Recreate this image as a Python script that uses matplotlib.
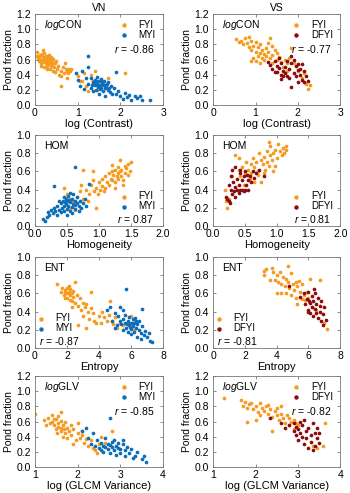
import numpy as np
import matplotlib
matplotlib.use("Agg")
import matplotlib.pyplot as plt

plt.rcParams['font.family'] = ['Liberation Sans', 'DejaVu Sans']
plt.rcParams['font.size'] = 7.5
plt.rcParams['mathtext.fontset'] = 'custom'
plt.rcParams['mathtext.it'] = 'Liberation Sans:italic'
plt.rcParams['mathtext.rm'] = 'Liberation Sans'

C_FYI = '#F49B20'
C_MYI = '#0C6DB8'
C_DFYI = '#8B0B0E'

# ---- VN, log contrast ----
vn_con_fyi = [(0.05,0.70),(0.08,0.62),(0.10,0.58),(0.12,0.66),(0.15,0.60),(0.15,0.55),(0.18,0.63),(0.20,0.57),
              (0.20,0.50),(0.22,0.68),(0.23,0.61),(0.25,0.55),(0.25,0.64),(0.27,0.59),(0.28,0.52),(0.30,0.62),
              (0.30,0.57),(0.32,0.66),(0.33,0.54),(0.35,0.60),(0.35,0.48),(0.37,0.63),(0.38,0.56),(0.40,0.52),
              (0.40,0.59),(0.42,0.45),(0.43,0.61),(0.45,0.50),(0.47,0.55),(0.48,0.43),(0.50,0.58),(0.52,0.47),
              (0.55,0.52),(0.57,0.40),(0.60,0.45),(0.62,0.38),(0.65,0.50),(0.68,0.42),(0.70,0.55),(0.72,0.47),
              (0.75,0.45),(0.78,0.42),(0.80,0.48),(0.82,0.45),(0.85,0.48),(0.60,0.25),(0.75,0.35),(1.00,0.38),
              (1.05,0.32),(1.10,0.31),(1.15,0.42),(1.20,0.25),(1.25,0.18),(1.30,0.40),(1.35,0.32),(1.50,0.25),
              (1.40,0.45),(1.45,0.20),(1.60,0.30),(1.70,0.35),(2.10,0.42),(0.18,0.72),(0.28,0.47),(0.05,0.65),
              (0.13,0.52),(0.22,0.59),(0.33,0.58),(0.27,0.65),(0.42,0.55),(0.17,0.67),(0.37,0.51),(0.10,0.63)]
vn_con_myi = [(0.95,0.42),(1.00,0.33),(1.05,0.25),(1.10,0.45),(1.15,0.21),(1.20,0.36),(1.25,0.65),(1.25,0.50),
              (1.25,0.28),(1.30,0.22),(1.30,0.35),(1.35,0.30),(1.35,0.18),(1.40,0.26),(1.40,0.33),(1.42,0.20),
              (1.45,0.28),(1.45,0.37),(1.48,0.24),(1.50,0.31),(1.50,0.15),(1.52,0.27),(1.55,0.22),(1.55,0.34),
              (1.58,0.29),(1.60,0.19),(1.60,0.26),(1.62,0.32),(1.65,0.23),(1.65,0.12),(1.68,0.28),(1.70,0.20),
              (1.72,0.30),(1.75,0.17),(1.78,0.25),(1.80,0.14),(1.85,0.22),(1.90,0.43),(1.90,0.15),(1.95,0.19),
              (2.00,0.12),(2.05,0.08),(2.10,0.16),(2.15,0.10),(2.20,0.13),(2.25,0.07),(2.35,0.12),(2.40,0.09),
              (2.45,0.12),(2.50,0.06),(2.70,0.07),(1.38,0.29),(1.47,0.25),(1.57,0.30),(1.63,0.27),(1.53,0.21),
              (1.43,0.32),(1.67,0.24),(1.33,0.26),(1.73,0.22)]

# ---- VS, log contrast ----
vs_con_fyi = [(0.55,0.87),(0.60,0.83),(0.65,0.85),(0.70,0.80),(0.75,0.88),(0.80,0.82),(0.85,0.90),(0.85,0.77),
              (0.90,0.72),(0.90,0.84),(0.95,0.78),(1.00,0.70),(1.00,0.83),(1.05,0.65),(1.05,0.76),(1.10,0.80),
              (1.10,0.68),(1.15,0.62),(1.15,0.73),(1.20,0.67),(1.20,0.59),(1.25,0.75),(1.25,0.64),(1.30,0.70),
              (1.30,0.82),(1.35,0.62),(1.35,0.88),(1.40,0.66),(1.40,0.55),(1.45,0.72),(1.50,0.60),(1.50,0.68),
              (1.55,0.63),(1.60,0.57),(1.65,0.50),(1.70,0.60),(1.75,0.55),(1.80,0.62),(1.85,0.75),(1.90,0.55),
              (2.00,0.45),(2.10,0.36),(2.15,0.42),(2.20,0.28),(2.25,0.21),(2.28,0.27),(0.90,0.58),(1.00,0.58),
              (1.10,0.55),(0.95,0.62),(1.75,0.45),(1.40,0.78)]
vs_con_dfyi = [(1.30,0.57),(1.35,0.53),(1.40,0.48),(1.45,0.58),(1.50,0.52),(1.50,0.44),(1.55,0.62),(1.55,0.49),
               (1.60,0.40),(1.60,0.55),(1.65,0.45),(1.65,0.38),(1.70,0.50),(1.70,0.42),(1.75,0.38),(1.80,0.48),
               (1.80,0.35),(1.85,0.55),(1.85,0.64),(1.85,0.24),(1.90,0.60),(1.90,0.42),(1.95,0.38),(2.00,0.54),
               (2.00,0.46),(2.00,0.30),(2.05,0.40),(2.05,0.48),(2.10,0.33),(2.10,0.54),(2.15,0.45),(2.15,0.30),
               (2.20,0.38),(2.25,0.32),(1.75,0.58),(1.95,0.52),(1.45,0.43),(1.60,0.34)]

# ---- VN, homogeneity ----
vn_hom_fyi = [(0.45,0.42),(0.50,0.35),(0.55,0.30),(0.60,0.28),(0.62,0.18),(0.65,0.32),(0.70,0.38),(0.72,0.45),
              (0.75,0.30),(0.80,0.40),(0.82,0.28),(0.85,0.35),(0.88,0.45),(0.90,0.50),(0.92,0.38),(0.95,0.42),
              (0.98,0.35),(1.00,0.48),(1.02,0.40),(1.05,0.52),(1.05,0.44),(1.08,0.38),(1.10,0.55),(1.12,0.48),
              (1.15,0.58),(1.15,0.45),(1.18,0.52),(1.20,0.60),(1.20,0.50),(1.22,0.56),(1.25,0.62),(1.25,0.48),
              (1.28,0.55),(1.30,0.58),(1.30,0.65),(1.30,0.52),(1.32,0.72),(1.33,0.60),(1.35,0.55),(1.35,0.62),
              (1.38,0.50),(1.40,0.66),(1.40,0.58),(1.42,0.64),(1.45,0.56),(1.45,0.68),(1.48,0.60),(1.50,0.70),
              (1.25,0.42),(1.10,0.42),(0.90,0.60),(0.75,0.62),(0.95,0.20),(0.55,0.20),(1.38,0.45),(1.20,0.67)]
vn_hom_myi = [(0.12,0.08),(0.15,0.06),(0.18,0.10),(0.20,0.15),(0.22,0.12),(0.25,0.18),(0.28,0.14),(0.30,0.20),
              (0.30,0.44),(0.32,0.16),(0.35,0.22),(0.35,0.12),(0.38,0.18),(0.40,0.25),(0.40,0.15),(0.42,0.20),
              (0.43,0.28),(0.45,0.22),(0.45,0.17),(0.48,0.30),(0.48,0.24),(0.50,0.19),(0.50,0.27),(0.52,0.33),
              (0.52,0.22),(0.55,0.26),(0.55,0.16),(0.57,0.30),(0.58,0.21),(0.60,0.24),(0.60,0.35),(0.62,0.65),
              (0.62,0.28),(0.63,0.19),(0.65,0.25),(0.66,0.32),(0.68,0.22),(0.70,0.28),(0.72,0.20),(0.75,0.25),
              (0.78,0.30),(0.80,0.22),(0.85,0.46),(0.55,0.36),(0.45,0.32),(0.38,0.27),(0.58,0.14),(0.68,0.16),
              (0.50,0.12),(0.53,0.29),(0.47,0.26),(0.63,0.23)]

# ---- VS, homogeneity ----
vs_hom_fyi = [(0.18,0.40),(0.20,0.28),(0.22,0.20),(0.25,0.30),(0.30,0.55),(0.35,0.78),(0.40,0.75),(0.42,0.55),
              (0.45,0.65),(0.50,0.58),(0.52,0.70),(0.55,0.62),(0.58,0.52),(0.60,0.68),(0.62,0.75),(0.65,0.65),
              (0.68,0.70),(0.70,0.60),(0.72,0.80),(0.75,0.72),(0.75,0.48),(0.78,0.68),(0.80,0.76),(0.82,0.62),
              (0.85,0.82),(0.85,0.70),(0.88,0.66),(0.90,0.78),(0.90,0.88),(0.92,0.72),(0.95,0.80),(0.95,0.60),
              (0.98,0.84),(1.00,0.75),(1.02,0.90),(1.05,0.82),(1.08,0.78),(1.10,0.86),(1.12,0.80),(1.15,0.84),
              (1.15,0.88),(0.70,0.56),(0.80,0.58),(0.60,0.58),(0.55,0.56),(0.65,0.48),(0.48,0.45),(0.40,0.62),
              (0.88,0.92),(0.97,0.66)]
vs_hom_dfyi = [(0.20,0.32),(0.22,0.30),(0.25,0.28),(0.25,0.45),(0.28,0.40),(0.28,0.55),(0.30,0.35),(0.30,0.62),
               (0.32,0.48),(0.33,0.38),(0.35,0.43),(0.35,0.32),(0.35,0.65),(0.38,0.40),(0.38,0.52),(0.40,0.45),
               (0.40,0.36),(0.42,0.39),(0.42,0.58),(0.45,0.40),(0.45,0.50),(0.48,0.38),(0.48,0.55),(0.50,0.40),
               (0.50,0.60),(0.52,0.45),(0.55,0.50),(0.55,0.40),(0.58,0.55),(0.60,0.48),(0.62,0.60),(0.65,0.53),
               (0.68,0.58),(0.72,0.62),(0.80,0.55),(0.27,0.25),(0.43,0.62),(0.53,0.56)]

# ---- VN, entropy ----
vn_ent_fyi = [(1.4,0.70),(1.6,0.62),(1.7,0.66),(1.8,0.58),(1.9,0.64),(2.0,0.60),(2.0,0.55),(2.1,0.68),
              (2.1,0.62),(2.2,0.58),(2.2,0.65),(2.3,0.52),(2.3,0.60),(2.4,0.56),(2.4,0.63),(2.5,0.50),
              (2.6,0.58),(2.7,0.46),(2.8,0.55),(2.9,0.42),(3.0,0.50),(3.0,0.35),(3.1,0.45),(3.2,0.48),
              (3.3,0.40),(3.4,0.32),(3.5,0.44),(3.6,0.38),(3.7,0.30),(3.8,0.28),(4.0,0.35),(4.1,0.28),
              (4.3,0.34),(4.5,0.30),(4.6,0.36),(4.8,0.30),(4.9,0.26),(5.0,0.34),(5.1,0.22),(5.3,0.28),
              (5.5,0.25),(5.9,0.26),(6.0,0.35),(6.2,0.20),(4.7,0.52),(2.5,0.72),(3.5,0.62),(2.7,0.25),
              (3.2,0.22),(1.9,0.55),(2.3,0.45),(4.2,0.40),(2.0,0.66),(2.2,0.53),(2.15,0.60),(1.85,0.61)]
vn_ent_myi = [(4.5,0.42),(4.7,0.45),(4.8,0.30),(5.0,0.22),(5.0,0.38),(5.2,0.35),(5.3,0.30),(5.4,0.26),
              (5.5,0.32),(5.5,0.20),(5.6,0.27),(5.6,0.36),(5.7,0.65),(5.7,0.22),(5.8,0.30),(5.8,0.18),
              (5.9,0.25),(5.9,0.34),(6.0,0.28),(6.0,0.21),(6.0,0.15),(6.1,0.32),(6.1,0.24),(6.2,0.28),
              (6.2,0.18),(6.3,0.30),(6.3,0.22),(6.4,0.26),(6.4,0.12),(6.5,0.20),(6.5,0.30),(6.6,0.17),
              (6.7,0.24),(6.7,0.43),(6.8,0.14),(6.9,0.19),(7.0,0.12),(7.1,0.16),(7.2,0.08),(7.3,0.07),
              (5.3,0.45),(5.1,0.25),(6.6,0.10),(5.5,0.42),(6.15,0.27),(5.95,0.23),(5.75,0.26),(6.25,0.33)]

# ---- VS, entropy ----
vs_ent_fyi = [(3.2,0.80),(3.2,0.85),(3.3,0.87),(3.7,0.88),(3.8,0.83),(3.9,0.75),(4.0,0.60),(4.0,0.80),
              (4.1,0.72),(4.2,0.84),(4.3,0.70),(4.4,0.78),(4.5,0.68),(4.6,0.76),(4.6,0.60),(4.7,0.90),
              (4.7,0.72),(4.8,0.66),(4.9,0.82),(4.9,0.58),(5.0,0.70),(5.1,0.64),(5.2,0.72),(5.2,0.55),
              (5.3,0.68),(5.3,0.48),(5.4,0.74),(5.5,0.62),(5.6,0.70),(5.7,0.58),(5.8,0.53),(5.9,0.62),
              (6.0,0.55),(6.1,0.76),(6.2,0.45),(6.5,0.42),(6.7,0.75),(7.0,0.28),(7.2,0.21),(3.6,0.75),
              (4.3,0.60),(5.6,0.54)]
vs_ent_dfyi = [(4.8,0.68),(5.5,0.56),(5.7,0.60),(5.8,0.48),(5.9,0.54),(6.0,0.42),(6.0,0.62),(6.1,0.50),
               (6.1,0.38),(6.2,0.57),(6.2,0.45),(6.3,0.52),(6.3,0.35),(6.4,0.60),(6.4,0.43),(6.5,0.48),
               (6.5,0.38),(6.6,0.55),(6.6,0.33),(6.7,0.46),(6.7,0.40),(6.8,0.52),(6.8,0.30),(6.9,0.37),
               (6.9,0.25),(7.0,0.45),(7.1,0.31),(6.35,0.65),(6.05,0.52),(5.95,0.40)]

# ---- VN, log GLCM variance ----
vn_glv_fyi = [(1.00,0.70),(1.20,0.62),(1.30,0.65),(1.35,0.58),(1.40,0.60),(1.45,0.55),(1.50,0.63),(1.50,0.50),
              (1.55,0.58),(1.55,0.67),(1.60,0.52),(1.60,0.47),(1.65,0.56),(1.70,0.60),(1.70,0.45),(1.75,0.52),
              (1.75,0.38),(1.80,0.48),(1.85,0.55),(1.85,0.42),(1.90,0.50),(1.95,0.35),(2.00,0.45),(2.00,0.58),
              (2.05,0.38),(2.10,0.42),(2.15,0.32),(2.20,0.37),(2.25,0.28),(2.30,0.35),(2.35,0.25),(2.40,0.22),
              (2.50,0.30),(2.55,0.40),(2.65,0.32),(1.40,0.68),(1.65,0.40),(1.90,0.30),(2.10,0.48),(1.25,0.55),
              (1.60,0.72),(2.45,0.19),(2.80,0.48),(1.55,0.53),(1.62,0.61),(1.45,0.63),(1.68,0.50),(1.52,0.45)]
vn_glv_myi = [(2.10,0.48),(2.20,0.52),(2.25,0.38),(2.30,0.30),(2.35,0.45),(2.40,0.28),(2.45,0.35),(2.50,0.25),
              (2.55,0.32),(2.60,0.28),(2.60,0.20),(2.65,0.38),(2.70,0.30),(2.70,0.24),(2.75,0.65),(2.75,0.18),
              (2.80,0.33),(2.80,0.26),(2.85,0.22),(2.85,0.36),(2.90,0.28),(2.90,0.16),(2.95,0.32),(3.00,0.24),
              (3.00,0.19),(3.05,0.30),(3.10,0.22),(3.10,0.14),(3.15,0.26),(3.20,0.18),(3.25,0.24),(3.30,0.12),
              (3.35,0.15),(3.40,0.20),(3.50,0.10),(3.55,0.15),(3.60,0.07),(2.55,0.22),(2.65,0.27),(2.95,0.25),
              (3.05,0.36),(2.75,0.29)]

# ---- VS, log GLCM variance ----
vs_glv_fyi = [(1.25,0.91),(1.65,0.89),(1.75,0.86),(1.80,0.78),(1.85,0.83),(1.90,0.85),(1.95,0.77),(2.00,0.80),
              (2.05,0.72),(2.10,0.84),(2.10,0.68),(2.15,0.78),(2.20,0.74),(2.25,0.80),(2.30,0.70),(2.35,0.76),
              (2.40,0.66),(2.45,0.74),(2.50,0.68),(2.50,0.78),(2.55,0.62),(2.60,0.70),(2.65,0.65),(2.70,0.58),
              (2.75,0.68),(2.80,0.55),(2.85,0.60),(2.90,0.62),(2.95,0.58),(3.00,0.56),(2.90,0.50),(1.80,0.60),
              (2.00,0.62),(2.40,0.48),(1.70,0.80),(2.30,0.82),(3.35,0.28),(3.45,0.25),(3.60,0.28),(3.65,0.58),
              (2.80,0.65),(2.60,0.80)]
vs_glv_dfyi = [(2.35,0.65),(2.60,0.58),(2.70,0.52),(2.80,0.55),(2.90,0.48),(2.95,0.42),(3.00,0.50),(3.00,0.35),
               (3.05,0.45),(3.10,0.55),(3.10,0.40),(3.15,0.62),(3.15,0.30),(3.20,0.48),(3.20,0.38),(3.25,0.25),
               (3.25,0.52),(3.30,0.42),(3.30,0.33),(3.35,0.58),(3.40,0.45),(3.40,0.28),(3.45,0.38),(3.45,0.52),
               (3.50,0.32),(2.90,0.58),(3.05,0.60),(3.35,0.22),(3.50,0.45),(2.95,0.53)]

# row settings: feature label, xlabel, xlim, xticks, ymax, legend placement
rows = [
    (r'$\mathit{log}$CON', 'log (Contrast)', (0, 3), [0, 1, 2, 3], 1.2, 'upper'),
    ('HOM', 'Homogeneity', (0, 2), [0, 0.5, 1.0, 1.5, 2.0], 1.0, 'lower right'),
    ('ENT', 'Entropy', (0, 8), [0, 2, 4, 6, 8], 1.0, 'lower left'),
    (r'$\mathit{log}$GLV', 'log (GLCM Variance)', (1, 4), [1, 2, 3, 4], 1.2, 'upper'),
]
vn_data = [(vn_con_fyi, vn_con_myi), (vn_hom_fyi, vn_hom_myi), (vn_ent_fyi, vn_ent_myi), (vn_glv_fyi, vn_glv_myi)]
vs_data = [(vs_con_fyi, vs_con_dfyi), (vs_hom_fyi, vs_hom_dfyi), (vs_ent_fyi, vs_ent_dfyi), (vs_glv_fyi, vs_glv_dfyi)]
r_vn = ['-0.86', '0.87', '-0.87', '-0.85']
r_vs = ['-0.77', '0.81', '-0.81', '-0.82']

fig = plt.figure(figsize=(3.5, 4.93), dpi=100)
bottoms = [0.787, 0.5416, 0.2941, 0.0527]
lefts = [0.10, 0.609]
w, h = 0.366, 0.1846


def draw(ax, pts1, pts2, c2, lab2, row, rval):
    feat, xlab, xlim, xt, ymax, legpos = row
    a = np.array(pts1)
    b = np.array(pts2)
    ax.scatter(a[:, 0], a[:, 1], s=7, color=C_FYI, lw=0, label='FYI')
    ax.scatter(b[:, 0], b[:, 1], s=7, color=c2, lw=0, label=lab2)
    ax.set_xlim(xlim)
    ax.set_ylim(0, ymax)
    ax.set_xticks(xt)
    if xlim == (0, 2):
        ax.set_xticklabels(['%.1f' % v for v in xt])
    yt = np.arange(0, ymax + 0.01, 0.2)
    ax.set_yticks(yt)
    ax.set_yticklabels(['%.1f' % v for v in yt])
    ax.tick_params(direction='in', top=True, right=True, length=2.5, width=0.6,
                   color='#777777', labelsize=7.5)
    ax.tick_params(axis='x', pad=2.5)
    ax.tick_params(axis='y', pad=3.0)
    for s in ax.spines.values():
        s.set_color('#777777')
        s.set_linewidth(0.6)
    ax.set_xlabel(xlab, fontsize=8, labelpad=0.5)
    ax.set_ylabel('Pond fraction', fontsize=7.5, labelpad=1.5)
    ax.text(0.07, 0.88, feat, transform=ax.transAxes, fontsize=7.5, va='center')
    rtxt = r'$\mathit{r}$ = ' + rval
    kw = dict(frameon=False, fontsize=7, handletextpad=1.0, labelspacing=0.0,
              handlelength=1.0, borderpad=0.1, borderaxespad=0, markerscale=1.2)
    if legpos == 'upper':
        ax.legend(loc='upper right', bbox_to_anchor=(0.95, 0.95), **kw)
        ax.text(0.93, 0.62, rtxt, transform=ax.transAxes, ha='right', va='center', fontsize=7.5)
    elif legpos == 'lower right':
        ax.legend(loc='lower right', bbox_to_anchor=(0.95, 0.15), **kw)
        ax.text(0.93, 0.08, rtxt, transform=ax.transAxes, ha='right', va='center', fontsize=7.5)
    else:
        ax.legend(loc='lower left', bbox_to_anchor=(0.0, 0.15), **kw)
        ax.text(0.03, 0.08, rtxt, transform=ax.transAxes, ha='left', va='center', fontsize=7.5)


for i, row in enumerate(rows):
    ax1 = fig.add_axes([lefts[0], bottoms[i], w, h])
    draw(ax1, vn_data[i][0], vn_data[i][1], C_MYI, 'MYI', row, r_vn[i])
    ax2 = fig.add_axes([lefts[1], bottoms[i], w - 0.003, h])
    draw(ax2, vs_data[i][0], vs_data[i][1], C_DFYI, 'DFYI', row, r_vs[i])
    if i == 0:
        ax1.set_title('VN', fontsize=7.5, pad=2)
        ax2.set_title('VS', fontsize=7.5, pad=2)

fig.savefig('out.png', dpi=100)
